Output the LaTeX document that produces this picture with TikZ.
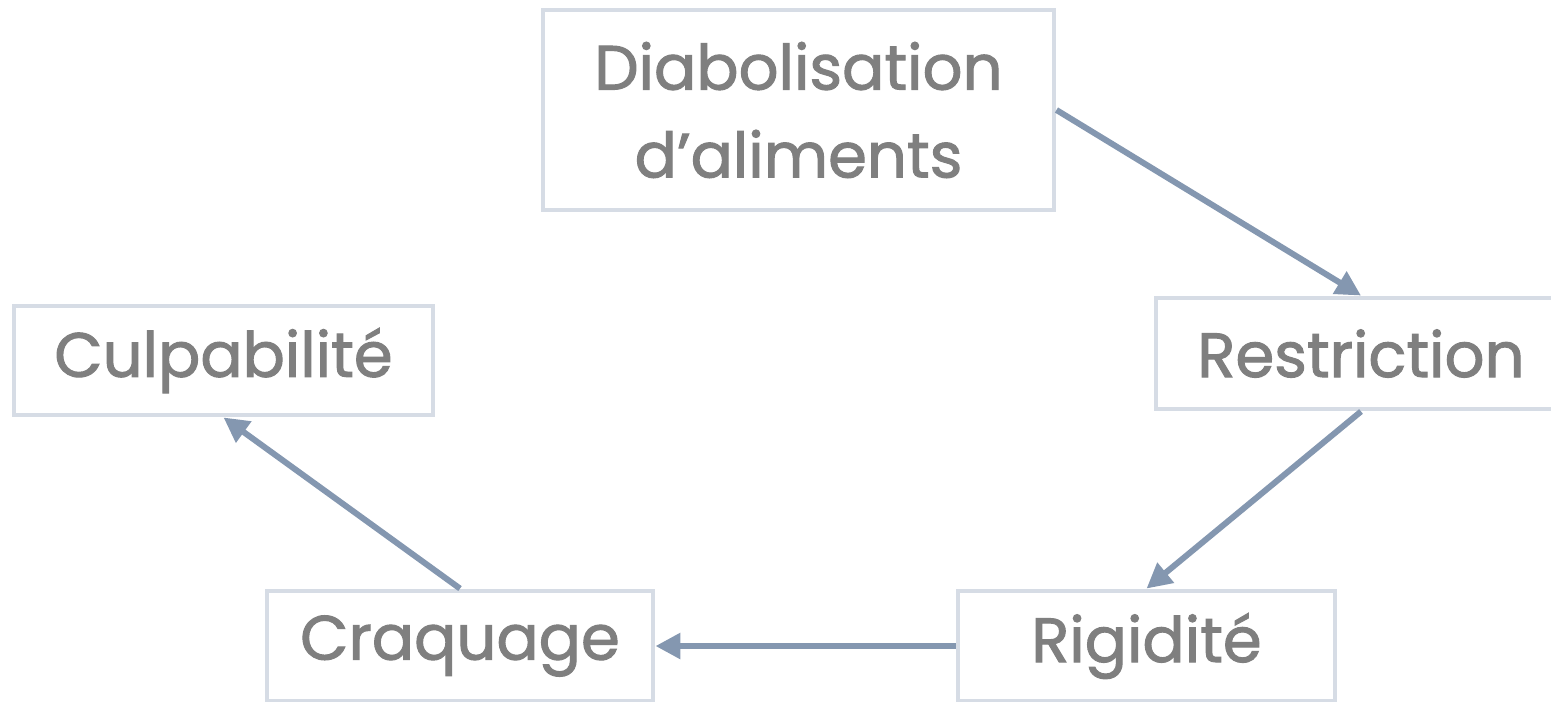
\documentclass[tikz,border=0pt]{standalone}
\usepackage{fontspec}
\setmainfont{Poppins}[FakeBold=1.6]
\usetikzlibrary{arrows.meta}
\definecolor{boxline}{HTML}{D6DCE5}
\definecolor{arrowline}{HTML}{8497B0}
\definecolor{boxtext}{HTML}{7F7F7F}
\tikzset{
  stepbox/.style={draw=boxline, line width=1.4pt, fill=white, text=boxtext,
    font=\fontsize{17.8}{25}\selectfont, align=center, inner sep=0pt},
  cyclearrow/.style={draw=arrowline, line width=1.7pt,
    -{Triangle[length=0.25cm, width=0.25cm]}}
}
\begin{document}
\begin{tikzpicture}
    \useasboundingbox (0,0) rectangle (15.51,-7.01);
    \clip (0,0) rectangle (15.51,-7.01);

    \node[stepbox, minimum width=5.11cm, minimum height=2.00cm] (diab) at (7.985,-1.10) {Diabolisation\\d'aliments};
    \node[stepbox, minimum width=4.10cm, minimum height=1.11cm] (restr) at (13.61,-3.535) {Restriction};
    \node[stepbox, minimum width=3.77cm, minimum height=1.10cm] (rigid) at (11.465,-6.46) {Rigidité};
    \node[stepbox, minimum width=3.86cm, minimum height=1.10cm] (craq) at (4.60,-6.46) {Craquage};
    \node[stepbox, minimum width=4.19cm, minimum height=1.09cm] (culp) at (2.235,-3.605) {Culpabilité};

    \draw[cyclearrow] (diab.east) -- (restr.north);
    \draw[cyclearrow] (restr.south) -- (rigid.north);
    \draw[cyclearrow] (rigid.west) -- (craq.east);
    \draw[cyclearrow] (craq.north) -- (culp.south);

\end{tikzpicture}
\end{document}
